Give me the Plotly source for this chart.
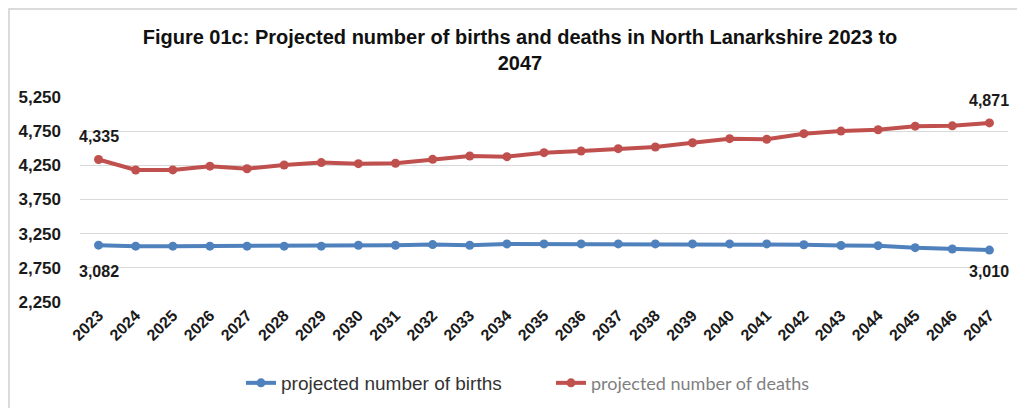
import plotly.graph_objects as go

# Projected births and deaths, North Lanarkshire
years = [str(y) for y in range(2023, 2048)]
births = [3082, 3067, 3067, 3067, 3067, 3067, 3067, 3080, 3080, 3090, 3080, 3100,
          3100, 3100, 3100, 3100, 3100, 3100, 3100, 3088, 3077, 3075, 3045, 3025, 3010]
deaths = [4335, 4182, 4183, 4238, 4200, 4255, 4290, 4275, 4280, 4338, 4386, 4377,
          4435, 4459, 4494, 4518, 4581, 4640, 4632, 4713, 4751, 4771, 4823, 4828, 4871]
y_ticks = [2250, 2750, 3250, 3750, 4250, 4750, 5250]

BLUE = "#4f81bd"
RED = "#c0504d"
FONT = "Liberation Sans, Arial, sans-serif"

fig = go.Figure()
fig.add_trace(go.Scatter(
    x=years, y=births, mode="lines+markers",
    name="projected number of births",
    line=dict(color=BLUE, width=4),
    marker=dict(color=BLUE, size=9),
))
fig.add_trace(go.Scatter(
    x=years, y=deaths, mode="lines+markers",
    name="<span style='font-family:Lato, sans-serif;font-size:18px;color:#7f7f7f'>projected number of deaths</span>",
    line=dict(color=RED, width=4),
    marker=dict(color=RED, size=9),
))

# value labels on the first and last points of each series
label_font = dict(family=FONT, size=16, color="#1a1a1a", weight="bold")
last = len(years) - 1
for series, shifts in ((deaths, (23, 22)), (births, (-26, -21))):
    for i, shift in zip((0, last), shifts):
        fig.add_annotation(
            x=i, y=series[i], text=f"{series[i]:,}",
            showarrow=False, yshift=shift, font=label_font,
        )

# light outer frame
fig.add_shape(type="rect", xref="paper", yref="paper",
              x0=-71 / 928, x1=1.05, y0=-0.6, y1=1 + 88 / 205,
              line=dict(color="#d0d0d0", width=1.5), fillcolor="rgba(0,0,0,0)",
              layer="below")

fig.update_layout(
    width=1017, height=408,
    margin=dict(l=80, r=9, t=97, b=106),
    paper_bgcolor="white", plot_bgcolor="white",
    title=dict(
        text="Figure 01c: Projected number of births and deaths in North Lanarkshire 2023 to<br>2047",
        x=520 / 1017, xanchor="center", y=1 - 44 / 408, yanchor="top",
        font=dict(family=FONT, size=20, color="#111111", weight="bold"),
    ),
    showlegend=True,
    legend=dict(
        orientation="h", x=241 / 1017, xanchor="left", xref="container",
        y=25 / 408, yanchor="middle", yref="container",
        font=dict(family=FONT, size=19, color="#333333"),
        itemwidth=30, tracegroupgap=0, entrywidth=265,
    ),
    xaxis=dict(
        type="category", range=[-0.5, len(years) - 0.5], tickangle=-45,
        showgrid=False, showline=False, ticks="",
        tickfont=dict(family=FONT, size=16, color="#1a1a1a", weight="bold"),
    ),
    yaxis=dict(
        range=[2250, 5250], tickvals=y_ticks, tickformat=",",
        showgrid=True, gridcolor="#d9d9d9", gridwidth=1, zeroline=False,
        showline=False, ticks="",
        tickfont=dict(family=FONT, size=17, color="#1a1a1a", weight="bold"),
        ticklabelstandoff=18,
    ),
)

fig.write_html("out.html")
